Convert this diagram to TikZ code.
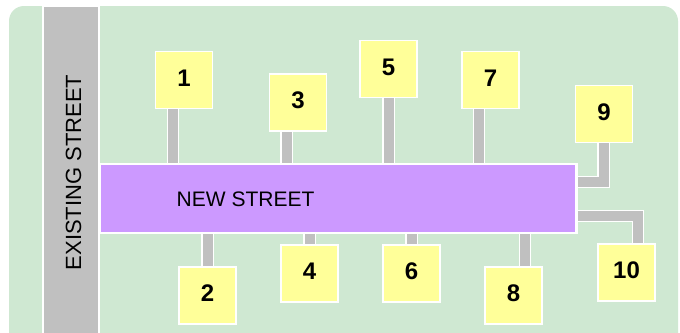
\documentclass[tikz,border=0pt]{standalone}
\usepackage{fontspec}
\setmainfont{Liberation Sans}
\definecolor{bggreen}{RGB}{207,232,210}
\definecolor{streetgray}{RGB}{192,192,192}
\definecolor{newpurple}{RGB}{204,153,255}
\definecolor{lotyellow}{RGB}{255,255,153}
\tikzset{
  lot/.style={draw=white, line width=1.5pt, fill=lotyellow, minimum width=57pt, minimum height=57pt, inner sep=0pt, text depth=4pt, font=\bfseries\fontsize{24}{28}\selectfont},
  stem/.style={draw=white, line width=1.2pt, double=streetgray, double distance=10pt},
  lbl/.style={inner sep=0pt}
}
\begin{document}
\begin{tikzpicture}[x=1pt,y=-1pt]
\clip (0,0) rectangle (680,332);
\fill[white] (0,0) rectangle (680,332);
\fill[bggreen, rounded corners=15pt] (9,6) rectangle (678,380);
% existing street
\node[draw=white, line width=1.5pt, fill=streetgray, minimum width=56pt, minimum height=340pt, inner sep=0pt] (ex) at (71,176) {};
\node[lbl, rotate=90, font=\fontsize{22}{26}\selectfont] (exlbl) at (73.5,172.5) {EXISTING STREET};
% new street
\node[draw=white, line width=1.5pt, fill=newpurple, minimum width=476pt, minimum height=68pt, inner sep=0pt] (street) at (338,198.5) {};
\node[lbl, anchor=west, font=\fontsize{21}{25}\selectfont] (nslbl) at (176.5,199) {NEW STREET};
% lots
\node[lot] (b1) at (184,80) {1};
\node[lot] (b2) at (207.5,295.5) {2};
\node[lot] (b3) at (298,102.5) {3};
\node[lot] (b4) at (309.5,273.5) {4};
\node[lot] (b5) at (388.5,69) {5};
\node[lot] (b6) at (411.5,273.5) {6};
\node[lot] (b7) at (490.5,80) {7};
\node[lot] (b8) at (513.5,295.5) {8};
\node[lot] (b9) at (604,114) {9};
\node[lot] (b10) at (626.5,272.5) {10};
% stems
\draw[stem] ([xshift=-11pt]b1.south) -- ([xshift=-11pt]b1.south |- street.north);
\draw[stem] ([xshift=-11.5pt]b3.south) -- ([xshift=-11.5pt]b3.south |- street.north);
\draw[stem] (b5.south) -- (b5.south |- street.north);
\draw[stem] ([xshift=-11.5pt]b7.south) -- ([xshift=-11.5pt]b7.south |- street.north);
\draw[stem] (b2.north) -- (b2.north |- street.south);
\draw[stem] (b4.north) -- (b4.north |- street.south);
\draw[stem] (b6.north) -- (b6.north |- street.south);
\draw[stem] ([xshift=11.5pt]b8.north) -- ([xshift=11.5pt]b8.north |- street.south);
\draw[stem] ([xshift=-0.5pt]b9.south) |- ([yshift=16.5pt]street.east);
\draw[stem] ([yshift=-17.5pt]street.east) -| ([xshift=11.5pt]b10.north);
% redraw lots and street edges on top of stem ends
\node[lot] at (b1) {1};
\node[lot] at (b2) {2};
\node[lot] at (b3) {3};
\node[lot] at (b4) {4};
\node[lot] at (b5) {5};
\node[lot] at (b6) {6};
\node[lot] at (b7) {7};
\node[lot] at (b8) {8};
\node[lot] at (b9) {9};
\node[lot] at (b10) {10};
\draw[white, line width=1.5pt] (street.north west) rectangle (street.south east);
\end{tikzpicture}
\end{document}
